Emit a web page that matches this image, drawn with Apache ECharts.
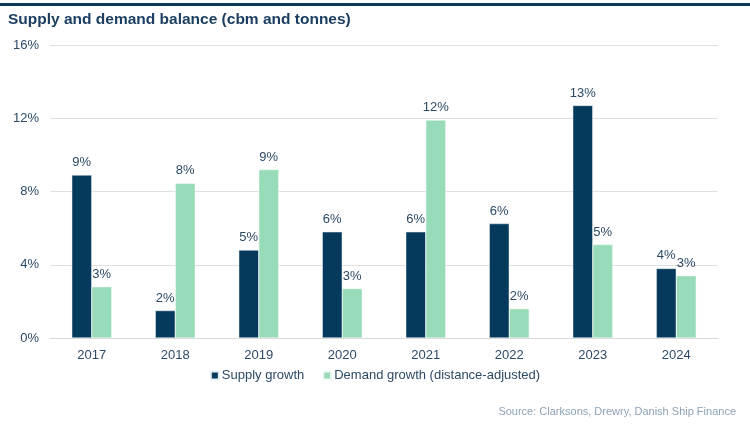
<!DOCTYPE html>
<html>
<head>
<meta charset="utf-8">
<script src="https://cdn.jsdelivr.net/npm/echarts@6/dist/echarts.min.js"></script>
<style>
html,body{margin:0;padding:0;background:#fff;}
#c{width:750px;height:424px;}
</style>
</head>
<body>
<div id="c"></div>
<script>
const categories = ['2017','2018','2019','2020','2021','2022','2023','2024'];
const supplyGrowth = [8.9, 1.5, 4.8, 5.8, 5.8, 6.25, 12.7, 3.8];
const demandGrowth = [2.8, 8.45, 9.2, 2.7, 11.9, 1.6, 5.1, 3.4];
const yTicks = [0, 4, 8, 12, 16];
const seriesNames = ['Supply growth', 'Demand growth (distance-adjusted)'];

const chart = echarts.init(document.getElementById('c'), null, {renderer: 'canvas'});
const font = 'Arial, "Liberation Sans", sans-serif';
const labelCfg = {
  show: true, position: 'top', distance: 6,
  color: '#2c4a66', fontSize: 13, fontFamily: font,
  formatter: p => Math.round(p.value) + '%'
};
chart.setOption({
  animation: false,
  graphic: [
    {type: 'rect', shape: {x: 0, y: 3, width: 750, height: 3}, style: {fill: '#0b3a5a'}},
    {type: 'text', left: 8, top: 12, style: {text: 'Supply and demand balance (cbm and tonnes)', fill: '#1c3f61', font: 'bold 15.5px ' + font}},
    {type: 'text', right: 14, top: 406, style: {text: 'Source: Clarksons, Drewry, Danish Ship Finance', fill: '#8ea2b6', font: '11px ' + font}}
  ],
  grid: {left: 50, right: 32, top: 45, bottom: 86},
  legend: {
    data: seriesNames, bottom: 37, left: 'center',
    icon: 'rect', itemWidth: 8, itemHeight: 8, itemGap: 18,
    textStyle: {color: '#2c4a66', fontSize: 13, fontFamily: font, padding: [0,0,0,-2]}
  },
  xAxis: {
    type: 'category', data: categories,
    axisLine: {lineStyle: {color: '#d9d9d9'}},
    axisTick: {show: false},
    axisLabel: {color: '#2c4a66', fontSize: 13, fontFamily: font, margin: 11}
  },
  yAxis: {
    type: 'value', min: yTicks[0], max: yTicks[yTicks.length - 1], interval: 4,
    axisLabel: {color: '#2c4a66', fontSize: 13, fontFamily: font, formatter: v => v + '%', margin: 11},
    splitLine: {lineStyle: {color: '#e0e0e0'}},
    axisLine: {show: false}, axisTick: {show: false}
  },
  series: [
    {name: seriesNames[0], type: 'bar', data: supplyGrowth, barWidth: 20, barGap: '0%',
     itemStyle: {color: '#053a5c', borderColor: '#e8eef2', borderWidth: 0.5}, label: labelCfg},
    {name: seriesNames[1], type: 'bar', data: demandGrowth, barWidth: 20,
     itemStyle: {color: '#98dbb9', borderColor: '#f0faf4', borderWidth: 0.5}, label: labelCfg}
  ]
});
</script>
</body>
</html>
